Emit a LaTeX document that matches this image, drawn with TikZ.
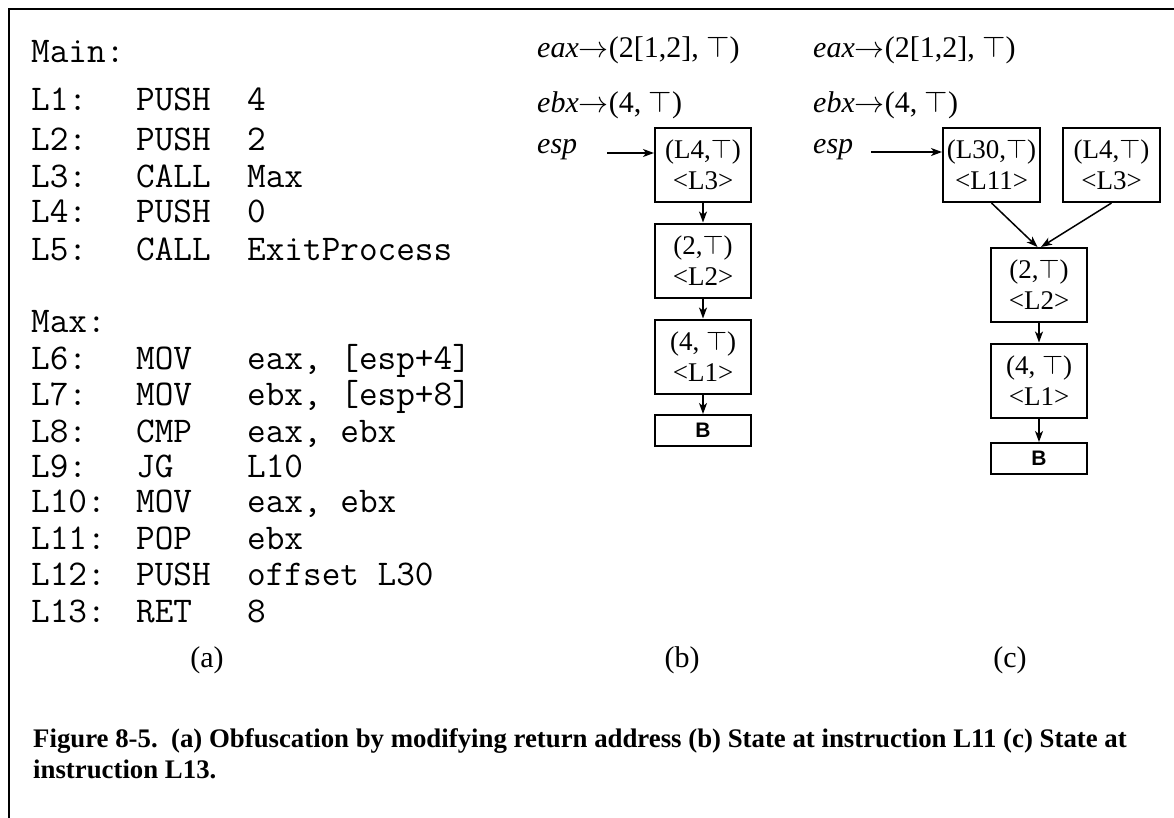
\RequirePackage{fix-cm}
\documentclass[tikz,border=0pt]{standalone}
\usepackage{fontspec}
\setmainfont{Liberation Serif}
\newfontfamily\sansfont{Liberation Sans}
\usetikzlibrary{arrows.meta}

\begin{document}
\begin{tikzpicture}[x=1pt,y=-1pt,
  code/.style={anchor=mid west,inner sep=0pt,font=\ttfamily\fontsize{36.2}{40}\selectfont},
  reg/.style={anchor=mid west,inner sep=0pt,font=\fontsize{30}{34}\selectfont},
  sub/.style={inner sep=0pt,font=\fontsize{30}{34}\selectfont},
  cell/.style={draw,line width=2pt,minimum width=96,minimum height=74,inner sep=0pt,
    align=center,font=\fontsize{27}{31}\selectfont},
  bottom/.style={draw,line width=2pt,minimum width=96,minimum height=31,inner sep=0pt,
    font=\sansfont\bfseries\fontsize{21}{24}\selectfont},
  arr/.style={line width=1.5pt,-{Stealth[length=11pt,width=8pt,inset=3pt]}}]
\useasboundingbox (0,0) rectangle (1174,817);

% frame (top and left edges only)
\draw[line width=2.5pt] (9,818) -- (9,9) -- (1175,9);

% (a) assembly listing
\node[code] (main) at (31,60) {Main:};
\foreach \n/\lab/\op/\arg/\y in {
  l1/L1:/PUSH/4/108, l2/L2:/PUSH/2/148, l3/L3:/CALL/Max/185,
  l4/L4:/PUSH/0/220, l5/L5:/CALL/ExitProcess/258,
  l6/L6:/MOV/{eax, [esp+4]}/367, l7/L7:/MOV/{ebx, [esp+8]}/403,
  l8/L8:/CMP/{eax, ebx}/440, l9/L9:/JG/L10/475, l10/L10:/MOV/{eax, ebx}/510,
  l11/L11:/POP/ebx/547, l12/L12:/PUSH/{offset L30}/583, l13/L13:/RET/8/620}{
  \node[code] (\n lab) at (31,\y) {\lab};
  \node[code] (\n op) at (136,\y) {\op};
  \node[code] (\n arg) at (247,\y) {\arg};
}
\node[code] (max) at (31,330) {Max:};
\node[sub] (capa) at (207,660) {(a)};

% (b) state at L11
\node[reg] (beax) at (537,55) {\textit{eax}$\rightarrow$(2[1,2], $\top$)};
\node[reg] (bebx) at (537,110) {\textit{ebx}$\rightarrow$(4, $\top$)};
\node[reg] (besp) at (537,151) {\textit{esp}};
\node[cell] (b1) at (703,165) {(L4,$\top$)\\<L3>};
\node[cell] (b2) at (703,260.5) {(2,$\top$)\\<L2>};
\node[cell] (b3) at (703,356.5) {(4, $\top$)\\<L1>};
\node[bottom] (bB) at (703,430.5) {B};
\coordinate (bp) at (607,153);
\draw[arr] (bp) -- (bp -| b1.west);
\draw[arr] (b1.south) -- (b2.north);
\draw[arr] (b2.south) -- (b3.north);
\draw[arr] (b3.south) -- (bB.north);
\node[sub] (capb) at (682,660) {(b)};

% (c) state at L13
\node[reg] (ceax) at (813,55) {\textit{eax}$\rightarrow$(2[1,2], $\top$)};
\node[reg] (cebx) at (813,110) {\textit{ebx}$\rightarrow$(4, $\top$)};
\node[reg] (cesp) at (813,151) {\textit{esp}};
\node[cell,minimum width=97] (c1) at (991.5,165) {(L30,$\top$)\\<L11>};
\node[cell,minimum width=97] (c2) at (1111.5,165) {(L4,$\top$)\\<L3>};
\node[cell] (c3) at (1039,285) {(2,$\top$)\\<L2>};
\node[cell] (c4) at (1039,380.5) {(4, $\top$)\\<L1>};
\node[bottom] (cB) at (1039,458.5) {B};
\coordinate (cp) at (871,152);
\draw[arr] (cp) -- (cp -| c1.west);
\draw[arr] (c1.south) -- ([xshift=-1.5pt]c3.north);
\draw[arr] (c2.south) -- ([xshift=2pt]c3.north);
\draw[arr] (c3.south) -- (c4.north);
\draw[arr] (c4.south) -- (cB.north);
\node[sub] (capc) at (1010,660) {(c)};

% caption
\node[anchor=north west,inner sep=0pt,align=left,
  font=\bfseries\fontsize{26.8}{31}\selectfont] (caption) at (33,728)
  {Figure 8-5.\ \ (a) Obfuscation by modifying return address (b) State at instruction L11 (c) State at\\
   instruction L13.};
\end{tikzpicture}
\end{document}
